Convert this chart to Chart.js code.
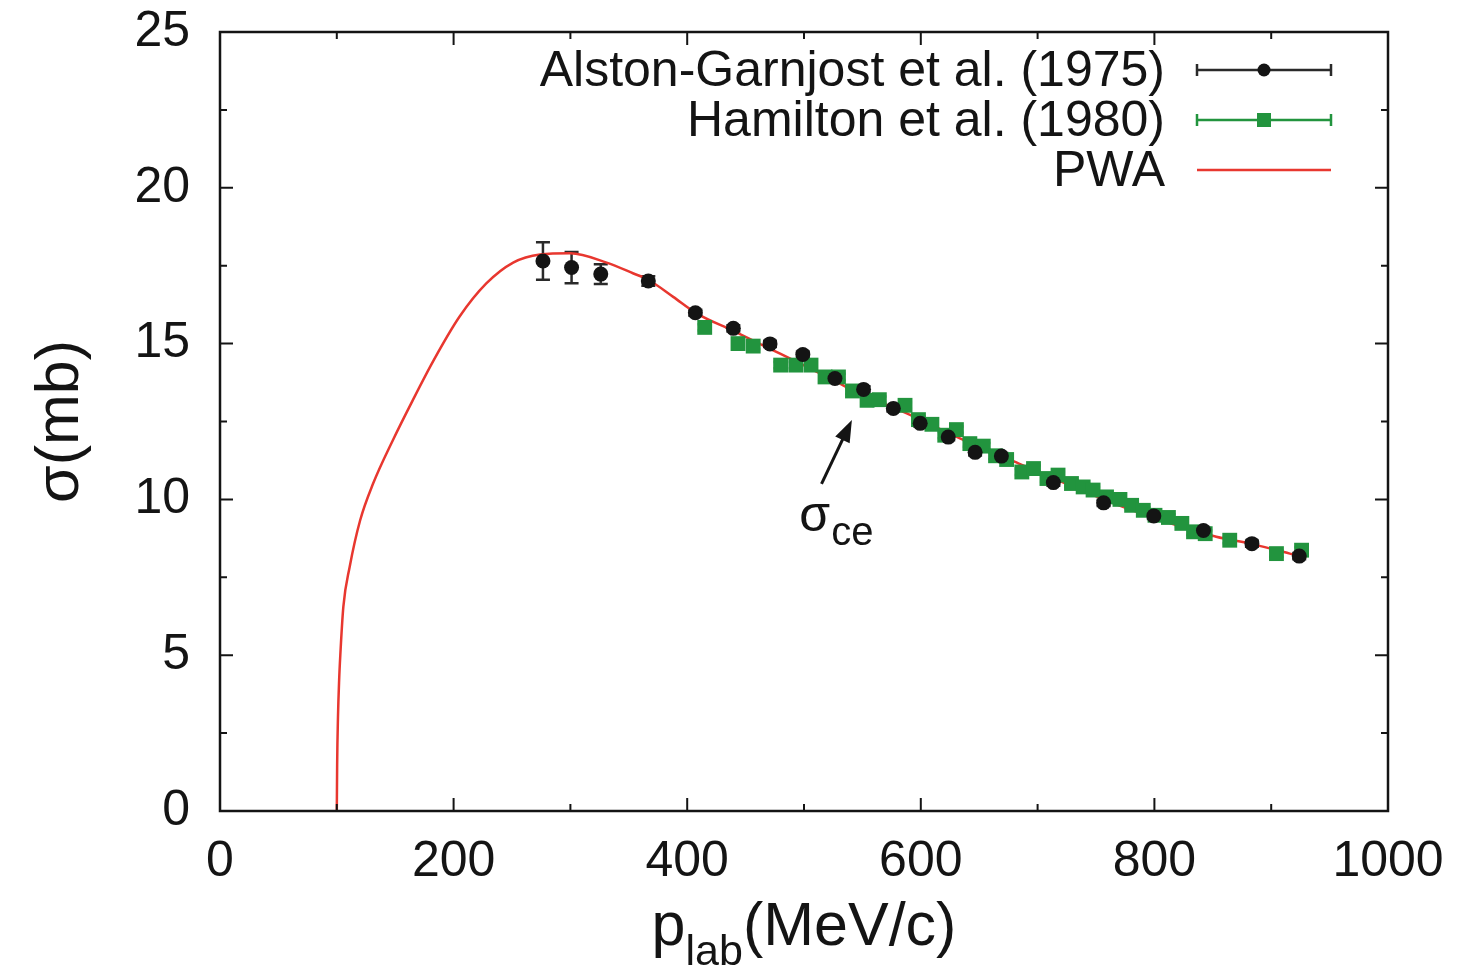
<!DOCTYPE html>
<html>
<head>
<meta charset="utf-8">
<script src="https://cdn.jsdelivr.net/npm/chart.js@4.4.1/dist/chart.umd.min.js"></script>
<style>
  html, body { margin: 0; padding: 0; background: #fff; }
</style>
</head>
<body>
<canvas id="canvasChart" width="1460" height="975"></canvas>
<script>
// Alston-Garnjost et al. (1975)
var agX = [276.5, 301, 326, 366.7, 407, 439.5, 470.9, 499, 526.5, 551, 576.5, 599.5, 623.5, 646.5, 669, 713.5, 756.5, 799.5, 842, 883.5, 924];
var agY = [17.65, 17.44, 17.23, 17.01, 15.99, 15.49, 14.99, 14.65, 13.88, 13.53, 12.92, 12.44, 12.0, 11.51, 11.39, 10.54, 9.89, 9.47, 9.0, 8.58, 8.18];
var agErr = [0.6, 0.5, 0.32, 0.15, 0.1, 0.1, 0.1, 0.1, 0.1, 0.1, 0.1, 0.1, 0.1, 0.1, 0.1, 0.1, 0.1, 0.1, 0.1, 0.1, 0.1];

// Hamilton et al. (1980)
var hamX = [415, 443.5, 456.5, 480, 493, 506, 518, 529.5, 541.5, 554, 564.5, 586.5, 598, 609.5, 620.5, 630.5, 642, 653.5, 664, 673.5, 686.5, 696.5, 708, 717.5, 729, 739, 747.5, 759, 770.5, 780.5, 790.5, 800.5, 812, 823.5, 833.5, 843.5, 864.5, 904.5, 926];
var hamY = [15.52, 15.0, 14.92, 14.31, 14.31, 14.31, 13.93, 13.93, 13.48, 13.18, 13.2, 13.02, 12.56, 12.41, 12.06, 12.24, 11.79, 11.71, 11.4, 11.28, 10.88, 10.99, 10.67, 10.78, 10.51, 10.4, 10.3, 10.08, 10.0, 9.81, 9.65, 9.49, 9.42, 9.23, 8.96, 8.9, 8.69, 8.26, 8.37];
var hamErr = [0.1, 0.1, 0.1, 0.1, 0.1, 0.1, 0.1, 0.1, 0.1, 0.1, 0.1, 0.1, 0.1, 0.1, 0.1, 0.1, 0.1, 0.1, 0.1, 0.1, 0.1, 0.1, 0.1, 0.1, 0.1, 0.1, 0.1, 0.1, 0.1, 0.1, 0.1, 0.1, 0.1, 0.1, 0.1, 0.1, 0.1, 0.1, 0.1];

// PWA curve
var pwaX = [100, 100.3, 101, 102, 103, 105.6, 111, 120, 131, 148, 165, 183, 205, 228, 251, 274, 300, 331, 354, 367, 388, 408, 440, 470, 500, 528, 542, 588, 634, 684, 773, 853, 882, 916, 930];
var pwaY = [0, 1.5, 3.0, 4.2, 5.0, 6.55, 7.83, 9.33, 10.5, 11.9, 13.18, 14.47, 15.86, 16.93, 17.6, 17.86, 17.9, 17.6, 17.25, 17.04, 16.5, 15.97, 15.4, 14.85, 14.3, 13.77, 13.5, 12.76, 11.95, 11.15, 9.76, 8.8, 8.58, 8.26, 8.12];

var seriesLabels = ["Alston-Garnjost et al. (1975)", "Hamilton et al. (1980)", "PWA"];

// annotation, in data units
var noteArrow = { from: [515, 10.5], to: [541, 12.55] };
var noteText = { at: [496, 9.0], main: "σ", sub: "ce" };

var FONT = '"Liberation Sans", Arial, Helvetica, sans-serif';
var INK = '#141414';
var GREEN = '#22943e';
var RED = '#e8372f';

function pairs(xs, ys) {
    return xs.map(function (x, i) { return { x: x, y: ys[i] }; });
}

var errorBars = {
    id: 'errorBars',
    beforeDatasetsDraw: function (chart) {
        var ctx = chart.ctx, xs = chart.scales.x, ys = chart.scales.y;
        chart.data.datasets.forEach(function (ds) {
            if (!ds.yErr) return;
            ctx.save();
            ctx.strokeStyle = ds.errColor;
            ctx.lineWidth = 2.5;
            ds.data.forEach(function (p, j) {
                var px = xs.getPixelForValue(p.x);
                var top = ys.getPixelForValue(p.y + ds.yErr[j]);
                var bot = ys.getPixelForValue(p.y - ds.yErr[j]);
                ctx.beginPath();
                ctx.moveTo(px, top); ctx.lineTo(px, bot);
                ctx.moveTo(px - 7, top); ctx.lineTo(px + 7, top);
                ctx.moveTo(px - 7, bot); ctx.lineTo(px + 7, bot);
                ctx.stroke();
            });
            ctx.restore();
        });
    }
};

var frameAndTicks = {
    id: 'frameAndTicks',
    afterDraw: function (chart) {
        var ctx = chart.ctx, a = chart.chartArea;
        var xs = chart.scales.x, ys = chart.scales.y;
        ctx.save();
        ctx.strokeStyle = INK;
        ctx.lineWidth = 2;
        ctx.beginPath();
        xs.ticks.forEach(function (t, i) {
            var px = xs.getPixelForValue(t.value);
            ctx.moveTo(px, a.bottom); ctx.lineTo(px, a.bottom - 13);
            ctx.moveTo(px, a.top); ctx.lineTo(px, a.top + 13);
            if (i > 0) {
                var mx = xs.getPixelForValue((t.value + xs.ticks[i - 1].value) / 2);
                ctx.moveTo(mx, a.bottom); ctx.lineTo(mx, a.bottom - 7);
                ctx.moveTo(mx, a.top); ctx.lineTo(mx, a.top + 7);
            }
        });
        ys.ticks.forEach(function (t, i) {
            var py = ys.getPixelForValue(t.value);
            ctx.moveTo(a.left, py); ctx.lineTo(a.left + 13, py);
            ctx.moveTo(a.right, py); ctx.lineTo(a.right - 13, py);
            if (i > 0) {
                var my = ys.getPixelForValue((t.value + ys.ticks[i - 1].value) / 2);
                ctx.moveTo(a.left, my); ctx.lineTo(a.left + 7, my);
                ctx.moveTo(a.right, my); ctx.lineTo(a.right - 7, my);
            }
        });
        ctx.stroke();
        ctx.lineWidth = 2.5;
        ctx.strokeRect(a.left, a.top, a.right - a.left, a.bottom - a.top);

        // axis titles
        ctx.fillStyle = INK;
        ctx.textBaseline = 'alphabetic';
        ctx.font = '61px ' + FONT;
        var wP = ctx.measureText('p').width;
        var wRest = ctx.measureText('(MeV/c)').width;
        ctx.font = '43px ' + FONT;
        var wSub = ctx.measureText('lab').width;
        var x0 = (a.left + a.right) / 2 - (wP + wSub + wRest) / 2;
        ctx.font = '61px ' + FONT;
        ctx.fillText('p', x0, 945);
        ctx.font = '43px ' + FONT;
        ctx.fillText('lab', x0 + wP, 965);
        ctx.font = '61px ' + FONT;
        ctx.fillText('(MeV/c)', x0 + wP + wSub, 945);

        ctx.save();
        ctx.translate(78, (a.top + a.bottom) / 2);
        ctx.rotate(-Math.PI / 2);
        ctx.textAlign = 'center';
        ctx.fillText('σ(mb)', 0, 0);
        ctx.restore();

        // sigma_ce note with arrow
        var fx = xs.getPixelForValue(noteArrow.from[0]), fy = ys.getPixelForValue(noteArrow.from[1]);
        var tx = xs.getPixelForValue(noteArrow.to[0]), ty = ys.getPixelForValue(noteArrow.to[1]);
        var ang = Math.atan2(ty - fy, tx - fx);
        ctx.lineWidth = 3;
        ctx.beginPath();
        ctx.moveTo(fx, fy);
        ctx.lineTo(tx - 16 * Math.cos(ang), ty - 16 * Math.sin(ang));
        ctx.stroke();
        ctx.beginPath();
        ctx.moveTo(tx, ty);
        ctx.lineTo(tx - 22 * Math.cos(ang) + 8 * Math.sin(ang), ty - 22 * Math.sin(ang) - 8 * Math.cos(ang));
        ctx.lineTo(tx - 22 * Math.cos(ang) - 8 * Math.sin(ang), ty - 22 * Math.sin(ang) + 8 * Math.cos(ang));
        ctx.closePath();
        ctx.fill();

        var nx = xs.getPixelForValue(noteText.at[0]), ny = ys.getPixelForValue(noteText.at[1]);
        ctx.font = '50px ' + FONT;
        ctx.fillText(noteText.main, nx, ny);
        var ws = ctx.measureText(noteText.main).width;
        ctx.font = '40px ' + FONT;
        ctx.fillText(noteText.sub, nx + ws + 1, ny + 14);

        // key, gnuplot style (text right-aligned, sample on the right)
        var textRight = a.right - 223, s0 = a.right - 191, s1 = a.right - 57, sm = (s0 + s1) / 2;
        chart.data.datasets.forEach(function (ds, i) {
            var ry = a.top + 38 + i * 50;
            ctx.font = '50px ' + FONT;
            ctx.textAlign = 'right';
            ctx.textBaseline = 'middle';
            ctx.fillStyle = INK;
            ctx.fillText(ds.label, textRight, ry + 2);
            ctx.strokeStyle = ds.errColor || ds.borderColor;
            ctx.lineWidth = 2.5;
            ctx.beginPath();
            ctx.moveTo(s0, ry); ctx.lineTo(s1, ry);
            if (ds.yErr) {
                ctx.moveTo(s0, ry - 6); ctx.lineTo(s0, ry + 6);
                ctx.moveTo(s1, ry - 6); ctx.lineTo(s1, ry + 6);
            }
            ctx.stroke();
            if (ds.yErr) {
                ctx.fillStyle = ds.backgroundColor;
                if (ds.pointStyle === 'rect') {
                    ctx.fillRect(sm - 7, ry - 7, 14, 14);
                } else {
                    ctx.beginPath();
                    ctx.arc(sm, ry, 6.5, 0, 2 * Math.PI);
                    ctx.fill();
                }
            }
        });
        ctx.restore();
    }
};

var canvas = document.getElementById("canvasChart").getContext('2d');

var chartConfig = {
    type: 'scatter',
    data: {
        datasets: [{
            label: seriesLabels[0],
            data: pairs(agX, agY),
            yErr: agErr,
            errColor: '#2a2a2a',
            pointStyle: 'circle',
            pointRadius: 7.5,
            backgroundColor: INK,
            borderColor: INK,
            borderWidth: 0
        }, {
            label: seriesLabels[1],
            data: pairs(hamX, hamY),
            yErr: hamErr,
            errColor: GREEN,
            pointStyle: 'rect',
            pointRadius: 10.5,
            backgroundColor: GREEN,
            borderColor: GREEN,
            borderWidth: 0
        }, {
            label: seriesLabels[2],
            data: pairs(pwaX, pwaY),
            showLine: true,
            pointRadius: 0,
            borderColor: RED,
            backgroundColor: RED,
            borderWidth: 2.5,
            cubicInterpolationMode: 'monotone'
        }]
    },
    options: {
        responsive: false,
        animation: false,
        layout: { padding: { top: 32, right: 72, left: 0, bottom: 0 } },
        plugins: {
            legend: { display: false },
            tooltip: { enabled: false }
        },
        scales: {
            x: {
                type: 'linear',
                min: 0,
                max: 1000,
                grid: { display: false, drawTicks: false },
                border: { display: false },
                ticks: {
                    stepSize: 200, color: INK, padding: 21, font: { size: 50, family: FONT },
                    callback: function (v) { return String(v); }
                },
                afterFit: function (s) { s.height = 164; s.paddingLeft = 0; s.paddingRight = 0; }
            },
            y: {
                min: 0,
                max: 25,
                grid: { display: false, drawTicks: false },
                border: { display: false },
                ticks: { stepSize: 5, color: INK, padding: 30, font: { size: 50, family: FONT } },
                afterFit: function (s) { s.width = 220; s.paddingTop = 0; s.paddingBottom = 0; }
            }
        }
    },
    plugins: [errorBars, frameAndTicks]
};

var chartObject = new Chart(canvas, chartConfig);
</script>
</body>
</html>
